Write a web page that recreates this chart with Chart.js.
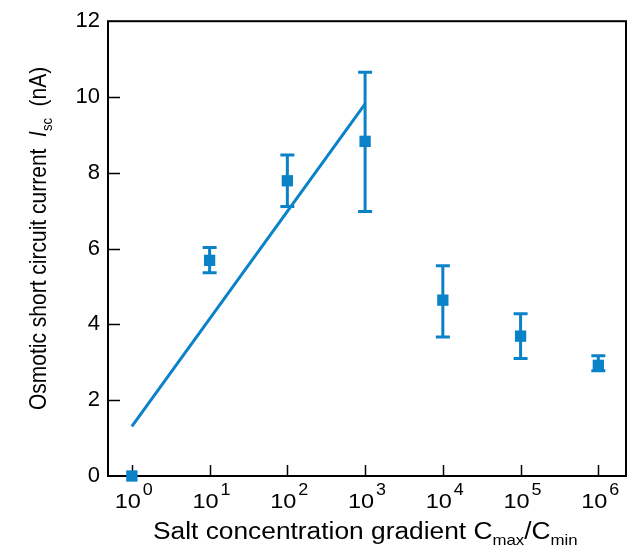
<!DOCTYPE html>
<html>
<head>
<meta charset="utf-8">
<script src="https://cdn.jsdelivr.net/npm/chart.js@4"></script>
<style>
  html, body { margin: 0; padding: 0; background: #fff; }
  #wrap { width: 634px; height: 548px; }
</style>
</head>
<body>
<div id="wrap"><canvas id="iscChart" width="634" height="548"></canvas></div>
<script>
// Salt gradient ratio Cmax/Cmin and measured short circuit current (nA)
const gradients = [1, 10, 100, 1e3, 1e4, 1e5, 1e6];
const currents = [0, 5.69, 7.79, 8.83, 4.64, 3.69, 2.92];
const currentHigh = [0, 6.03, 8.47, 10.65, 5.55, 4.28, 3.17];
const currentLow = [0, 5.36, 7.11, 6.98, 3.67, 3.10, 2.78];

// linear fit over the first three decades
const fitX = [1, 1000];
const fitY = [1.31, 9.82];

const yTicks = [0, 2, 4, 6, 8, 10, 12];

const BLUE = '#0a82c8';
const FONT = '"Liberation Sans", Arial, Helvetica, sans-serif';
const WIDE = 1.12;   // text is set slightly wide

// draws a run of text pieces: [text, size, dy, italic], widened by WIDE
function drawRuns(ctx, x, y, runs) {
    ctx.save();
    ctx.translate(x, y);
    ctx.scale(WIDE, 1);
    let cx = 0;
    runs.forEach(r => {
        ctx.font = (r[3] ? 'italic ' : '') + r[1] + 'px ' + FONT;
        ctx.fillText(r[0], cx, r[2]);
        cx += ctx.measureText(r[0]).width;
    });
    ctx.restore();
}

const figurePlugin = {
    id: 'figure',
    beforeDatasetsDraw(chart) {
        const ctx = chart.ctx;
        const a = chart.chartArea;
        const xs = chart.scales.x;
        const ys = chart.scales.y;
        ctx.save();

        // frame
        ctx.strokeStyle = '#000';
        ctx.lineWidth = 2;
        ctx.strokeRect(a.left, a.top, a.right - a.left, a.bottom - a.top);

        // inward tick marks
        ctx.lineWidth = 1.5;
        ctx.beginPath();
        ys.ticks.forEach(t => {
            const py = Math.round(ys.getPixelForValue(t.value)) + 0.5;
            if (py <= a.top + 2 || py >= a.bottom - 2) return;
            ctx.moveTo(a.left, py);
            ctx.lineTo(a.left + 12, py);
        });
        xs.ticks.forEach(t => {
            const px = Math.round(xs.getPixelForValue(t.value)) + 0.5;
            ctx.moveTo(px, a.bottom);
            ctx.lineTo(px, a.bottom - 11);
        });
        ctx.stroke();

        // error bars
        ctx.strokeStyle = BLUE;
        ctx.lineWidth = 3;
        ctx.beginPath();
        gradients.forEach((g, i) => {
            if (currentHigh[i] === currentLow[i]) return;
            const px = xs.getPixelForValue(g);
            const top = ys.getPixelForValue(currentHigh[i]);
            const bot = ys.getPixelForValue(currentLow[i]);
            ctx.moveTo(px, top);
            ctx.lineTo(px, bot);
            ctx.moveTo(px - 7, top);
            ctx.lineTo(px + 7, top);
            ctx.moveTo(px - 7, bot);
            ctx.lineTo(px + 7, bot);
        });
        ctx.stroke();
        ctx.restore();
    },
    afterDraw(chart) {
        const ctx = chart.ctx;
        const xs = chart.scales.x;
        ctx.save();
        ctx.fillStyle = '#000';
        ctx.textBaseline = 'alphabetic';
        ctx.textAlign = 'left';

        // x tick labels as powers of ten
        xs.ticks.forEach(t => {
            const px = xs.getPixelForValue(t.value);
            const exp = Math.round(Math.log10(t.value));
            ctx.font = '21px ' + FONT;
            const w = ctx.measureText('10').width * WIDE;
            drawRuns(ctx, px + 9 - w, 508, [['10', 21, 0]]);
            drawRuns(ctx, px + 11, 495, [[String(exp), 16, 0]]);
        });

        // axis titles
        drawRuns(ctx, 153, 539, [
            ['Salt concentration gradient C', 23.5, 0],
            ['max', 15, 6],
            ['/C', 23.5, 0],
            ['min', 15, 6]
        ]);

        // rotated y title, glyphs widened across the page
        ctx.translate(46, 410);
        ctx.scale(WIDE, 1);
        ctx.rotate(-Math.PI / 2);
        let cy = 0;
        [['Osmotic short circuit current  ', 21, 0, false],
         ['I', 21, 0, true],
         ['sc', 13, 5, false],
         ['  (nA)', 21, 0, false]].forEach(r => {
            ctx.font = (r[3] ? 'italic ' : '') + r[1] + 'px ' + FONT;
            ctx.fillText(r[0], cy, r[2]);
            cy += ctx.measureText(r[0]).width;
        });
        ctx.restore();
    }
};

const ctx = document.getElementById('iscChart');
new Chart(ctx, {
    type: 'scatter',
    data: {
        datasets: [{
            data: gradients.map((g, i) => ({ x: g, y: currents[i] })),
            pointStyle: 'rect',
            pointRadius: 8,
            backgroundColor: BLUE,
            borderWidth: 0,
            showLine: false,
            clip: false
        }, {
            data: fitX.map((x, i) => ({ x: x, y: fitY[i] })),
            showLine: true,
            borderColor: BLUE,
            borderWidth: 3,
            pointRadius: 0
        }]
    },
    options: {
        responsive: false,
        animation: false,
        layout: { padding: { top: 15, right: 5, left: 0, bottom: 0 } },
        plugins: {
            legend: { display: false },
            tooltip: { enabled: false }
        },
        scales: {
            x: {
                type: 'logarithmic',
                min: Math.pow(10, -0.307),
                max: Math.pow(10, 6.356),
                grid: { display: false, drawTicks: false },
                border: { display: false },
                ticks: { display: false },
                afterBuildTicks: s => { s.ticks = gradients.map(v => ({ value: v })); },
                afterFit: s => { s.height = 72; }
            },
            y: {
                min: 0,
                max: 12,
                afterBuildTicks: s => { s.ticks = yTicks.map(v => ({ value: v })); },
                grid: { display: false, drawTicks: false },
                border: { display: false },
                ticks: {
                    color: '#000',
                    padding: 8,
                    font: { family: FONT, size: 22 }
                },
                afterFit: s => { s.width = 108; }
            }
        }
    },
    plugins: [figurePlugin]
});
</script>
</body>
</html>
